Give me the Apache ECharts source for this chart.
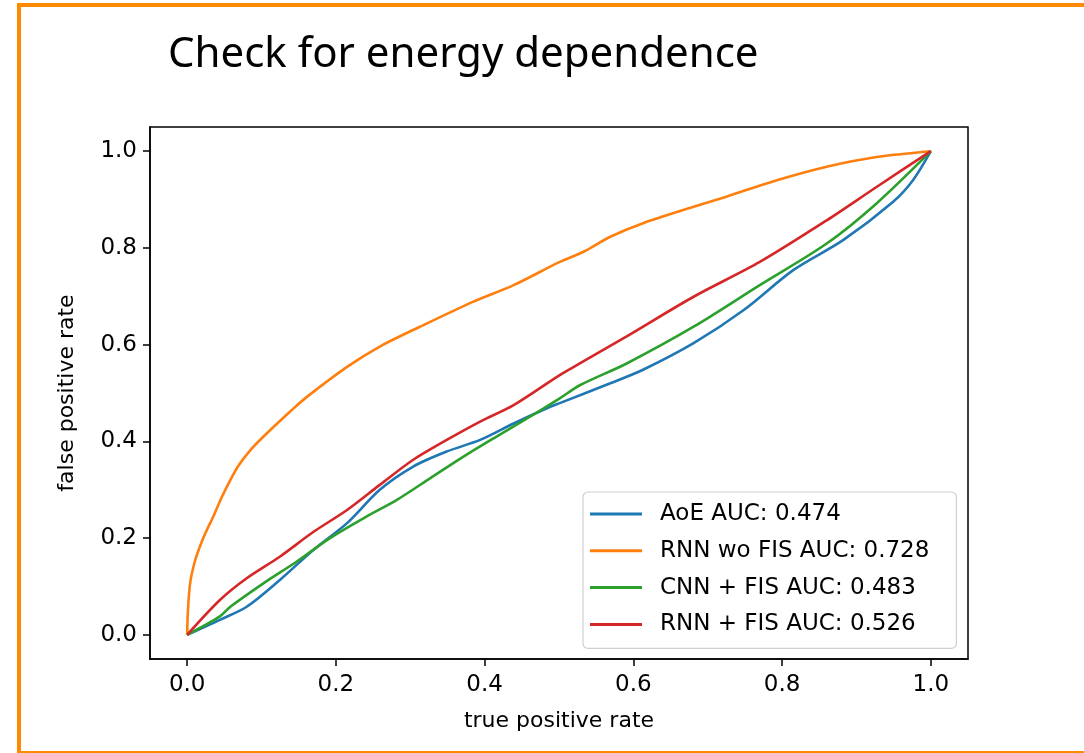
<!DOCTYPE html>
<html>
<head>
<meta charset="utf-8">
<script src="https://cdn.jsdelivr.net/npm/echarts@6/dist/echarts.min.js"></script>
<style>html,body{margin:0;padding:0;background:#fff;}#c{width:1084px;height:753px;}</style>
</head>
<body>
<div id="c"></div>
<script>
var titleText = 'Check for energy dependence';
var xName = 'true positive rate';
var yName = 'false positive rate';
var tickValues = [0, 0.2, 0.4, 0.6, 0.8, 1.0];
var seriesNames = ['AoE AUC: 0.474', 'RNN wo FIS AUC: 0.728', 'CNN + FIS AUC: 0.483', 'RNN + FIS AUC: 0.526'];
var aoe = [[0,0],[0.044,0.031],[0.080,0.058],[0.125,0.114],[0.170,0.176],[0.215,0.231],[0.259,0.300],[0.304,0.348],[0.349,0.379],[0.394,0.403],[0.439,0.437],[0.483,0.468],[0.501,0.479],[0.569,0.520],[0.613,0.548],[0.681,0.603],[0.748,0.671],[0.815,0.754],[0.882,0.816],[0.949,0.895],[0.976,0.940],[1,1]];
var rnnWo = [[0,0],[0.001,0.05],[0.004,0.107],[0.010,0.150],[0.017,0.182],[0.025,0.212],[0.035,0.244],[0.046,0.283],[0.058,0.320],[0.070,0.352],[0.085,0.382],[0.100,0.406],[0.121,0.437],[0.140,0.464],[0.161,0.492],[0.215,0.554],[0.259,0.596],[0.313,0.637],[0.385,0.689],[0.439,0.723],[0.501,0.771],[0.533,0.792],[0.569,0.823],[0.613,0.851],[0.681,0.885],[0.725,0.906],[0.793,0.940],[0.860,0.968],[0.927,0.988],[1,1]];
var cnnFis = [[0,0],[0.044,0.038],[0.058,0.058],[0.103,0.107],[0.147,0.151],[0.192,0.200],[0.237,0.241],[0.282,0.279],[0.327,0.324],[0.371,0.368],[0.416,0.410],[0.461,0.451],[0.501,0.489],[0.528,0.516],[0.591,0.561],[0.681,0.637],[0.770,0.723],[0.860,0.809],[0.927,0.892],[1,1]];
var rnnFis = [[0,0],[0.044,0.072],[0.080,0.117],[0.125,0.162],[0.170,0.213],[0.215,0.258],[0.259,0.310],[0.304,0.362],[0.349,0.403],[0.394,0.441],[0.439,0.475],[0.501,0.537],[0.528,0.561],[0.591,0.617],[0.681,0.699],[0.770,0.771],[0.860,0.857],[0.927,0.926],[1,1]];
var seriesData = [aoe, rnnWo, cnnFis, rnnFis];
var colors = ['#1f77b4', '#ff7f0e', '#2ca02c', '#d62728'];

var chart = echarts.init(document.getElementById('c'));
var fontFam = 'DejaVu Sans';
function axisCommon(name, isY) {
  return {
    type: 'value', min: -0.05, max: 1.05,
    name: name, nameLocation: 'middle', nameGap: isY ? 72 : 51,
    nameTextStyle: { fontFamily: fontFam, fontSize: 22, color: '#000' },
    axisLine: { show: true, onZero: false, lineStyle: { color: '#000', width: 1.5 } },
    axisTick: { show: true, inside: false, length: 7, lineStyle: { color: '#000', width: 1.5 }, customValues: tickValues },
    axisLabel: { show: true, margin: isY ? 13 : 15, fontFamily: fontFam, fontSize: 23, color: '#000', customValues: tickValues,
      formatter: function (v) { return v.toFixed(1); } },
    splitLine: { show: false }
  };
}
var series = seriesData.map(function (d, i) {
  return {
    name: seriesNames[i], type: 'line', data: d, showSymbol: false, symbol: 'none',
    smooth: 0.3,
    lineStyle: { color: colors[i], width: 2.6 }, itemStyle: { color: colors[i] },
    animation: false, z: 2 + i
  };
});
chart.setOption({
  animation: false,
  backgroundColor: '#fff',
  title: { text: titleText, left: 163, top: 29,
    textStyle: { fontFamily: 'Noto Sans', fontSize: 42, fontWeight: 'normal', color: '#000' } },
  grid: { left: 150, top: 127, right: 116, bottom: 94, show: true, borderColor: '#000', borderWidth: 1.5, backgroundColor: 'transparent' },
  xAxis: axisCommon(xName, false),
  yAxis: axisCommon(yName, true),
  legend: {
    data: seriesNames, orient: 'vertical', left: 583, top: 492,
    icon: 'rect', itemWidth: 52, itemHeight: 3, itemGap: 12.8,
    padding: [10, 27, 12, 7],
    backgroundColor: 'rgba(255,255,255,0.8)', borderColor: '#d0d0d0', borderWidth: 1.2, borderRadius: 5,
    textStyle: { fontFamily: fontFam, fontSize: 23, color: '#000', lineHeight: 24, padding: [0, 0, 0, 13] }
  },
  graphic: [{
    type: 'rect', shape: { x: 19, y: 5, width: 1100, height: 748 },
    style: { fill: 'none', stroke: '#ff8a00', lineWidth: 4 }, z: 100, silent: true
  }],
  series: series
});
</script>
</body>
</html>
